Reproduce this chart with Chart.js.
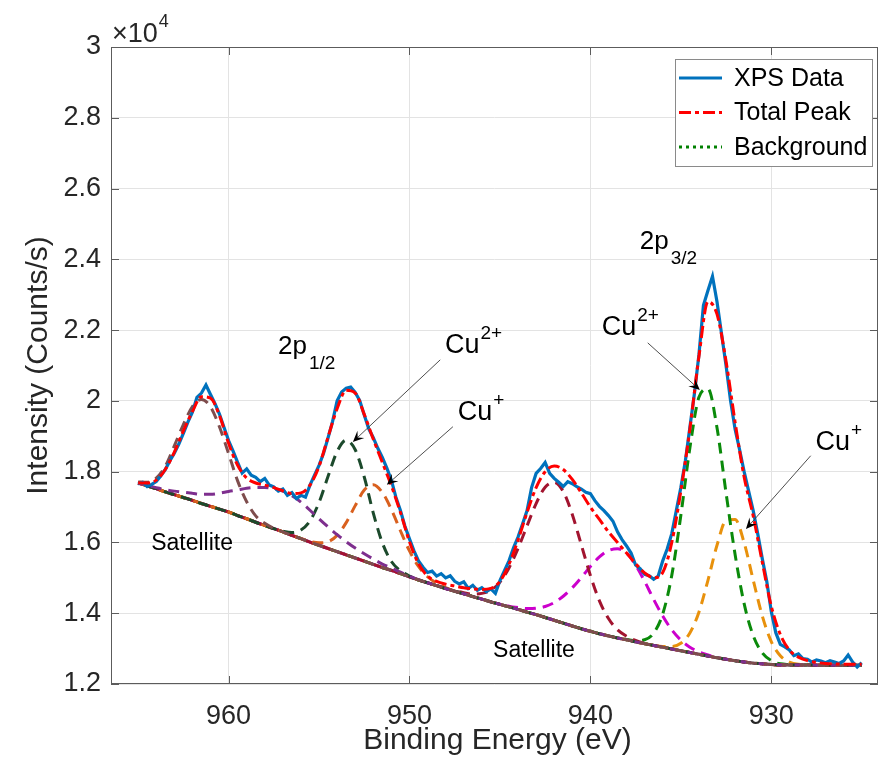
<!DOCTYPE html>
<html><head><meta charset="utf-8">
<script src="https://cdn.jsdelivr.net/npm/chart.js@4.4.1/dist/chart.umd.min.js"></script>
<style>html,body{margin:0;padding:0;background:#fff;}#wrap{width:880px;height:769px;}</style>
</head><body><div id="wrap"><canvas id="c" width="880" height="769"></canvas></div>
<script>
// ---------- DATA (intensity in units of 10^4 counts/s) ----------
const energyFine = [
965,964.75,964.5,964.25,964,963.75,963.5,963.25,
963,962.75,962.5,962.25,962,961.75,961.5,961.25,
961,960.75,960.5,960.25,960,959.75,959.5,959.25,
959,958.75,958.5,958.25,958,957.75,957.5,957.25,
957,956.75,956.5,956.25,956,955.75,955.5,955.25,
955,954.75,954.5,954.25,954,953.75,953.5,953.25,
953,952.75,952.5,952.25,952,951.75,951.5,951.25,
951,950.75,950.5,950.25,950,949.75,949.5,949.25,
949,948.75,948.5,948.25,948,947.75,947.5,947.25,
947,946.75,946.5,946.25,946,945.75,945.5,945.25,
945,944.75,944.5,944.25,944,943.75,943.5,943.25,
943,942.75,942.5,942.25,942,941.75,941.5,941.25,
941,940.75,940.5,940.25,940,939.75,939.5,939.25,
939,938.75,938.5,938.25,938,937.75,937.5,937.25,
937,936.75,936.5,936.25,936,935.75,935.5,935.25,
935,934.75,934.5,934.25,934,933.75,933.5,933.25,
933,932.75,932.5,932.25,932,931.75,931.5,931.25,
931,930.75,930.5,930.25,930,929.75,929.5,929.25,
929,928.75,928.5,928.25,928,927.75,927.5,927.25,
927,926.75,926.5,926.25,926,925.75,925.5,925.25,
925];
const xpsData = [
1.765,1.770,1.758,1.764,1.772,1.788,1.806,1.830,
1.852,1.878,1.908,1.940,1.968,2.010,2.022,2.045,
2.018,1.992,1.962,1.925,1.888,1.858,1.826,1.796,
1.808,1.790,1.784,1.772,1.781,1.762,1.757,1.745,
1.751,1.733,1.741,1.724,1.733,1.728,1.762,1.790,
1.818,1.852,1.896,1.942,2.000,2.025,2.036,2.039,
2.024,2.001,1.960,1.921,1.896,1.866,1.840,1.810,
1.776,1.728,1.690,1.646,1.610,1.576,1.548,1.530,
1.515,1.519,1.505,1.512,1.500,1.506,1.490,1.483,
1.489,1.470,1.479,1.465,1.472,1.461,1.469,1.456,
1.492,1.520,1.548,1.585,1.615,1.652,1.690,1.755,
1.795,1.809,1.826,1.795,1.781,1.770,1.758,1.772,
1.766,1.758,1.751,1.742,1.738,1.718,1.702,1.690,
1.676,1.660,1.630,1.608,1.590,1.570,1.536,1.526,
1.510,1.506,1.496,1.505,1.548,1.582,1.625,1.690,
1.755,1.830,1.925,2.020,2.130,2.270,2.312,2.352,
2.280,2.190,2.100,2.000,1.920,1.862,1.800,1.745,
1.690,1.625,1.555,1.490,1.405,1.345,1.312,1.305,
1.296,1.280,1.285,1.272,1.270,1.262,1.268,1.265,
1.260,1.266,1.262,1.258,1.265,1.282,1.262,1.248,
1.260];

const energy = [
965,964.5,964,963.5,963,962.5,962,961.5,961,960.5,
960,959.5,959,958.5,958,957.5,957,956.5,956,955.5,
955,954.5,954,953.5,953,952.5,952,951.5,951,950.5,
950,949.5,949,948.5,948,947.5,947,946.5,946,945.5,
945,944.5,944,943.5,943,942.5,942,941.5,941,940.5,
940,939.5,939,938.5,938,937.5,937,936.5,936,935.5,
935,934.5,934,933.5,933,932.5,932,931.5,931,930.5,
930,929.5,929,928.5,928,927.5,927,926.5,926,925.5,
925];
const totalPeak = [
1.768,1.768,1.776,1.806,1.855,1.915,1.970,2.012,2.008,1.958,
1.880,1.818,1.782,1.768,1.762,1.755,1.746,1.738,1.740,1.762,
1.815,1.898,1.978,2.030,2.022,1.962,1.892,1.826,1.760,1.685,
1.602,1.540,1.505,1.490,1.482,1.477,1.472,1.469,1.467,1.470,
1.490,1.538,1.606,1.685,1.755,1.800,1.816,1.806,1.778,1.740,
1.700,1.665,1.630,1.600,1.570,1.540,1.514,1.500,1.515,1.600,
1.745,1.920,2.125,2.280,2.245,2.112,1.940,1.785,1.675,1.545,
1.420,1.340,1.296,1.276,1.266,1.261,1.258,1.257,1.256,1.256,
1.256];
const background = [
1.768,1.760,1.752,1.743,1.735,1.727,1.719,1.710,1.702,1.694,
1.686,1.676,1.667,1.657,1.648,1.639,1.630,1.620,1.611,1.601,
1.592,1.583,1.574,1.565,1.556,1.547,1.538,1.529,1.521,1.512,
1.503,1.494,1.486,1.478,1.470,1.462,1.455,1.447,1.440,1.432,
1.425,1.418,1.411,1.403,1.396,1.388,1.380,1.372,1.364,1.356,
1.349,1.342,1.336,1.330,1.325,1.319,1.314,1.309,1.304,1.299,
1.294,1.289,1.284,1.279,1.274,1.270,1.266,1.262,1.259,1.257,
1.255,1.254,1.254,1.254,1.254,1.253,1.253,1.253,1.253,1.253,
1.253];
// fitted components: height above the background
const sat2p12 = [
0.003,0.010,0.030,0.072,0.138,0.206,0.265,0.294,0.281,0.232,
0.165,0.098,0.048,0.018,0.006,0.001,0,0,0,0,
0,0,0,0,0,0,0,0,0,0,
0,0,0,0,0,0,0,0,0,0,
0,0,0,0,0,0,0,0,0,0,
0,0,0,0,0,0,0,0,0,0,
0,0,0,0,0,0,0,0,0,0,
0,0,0,0,0,0,0,0,0,0,
0];
const satBroad = [
0,0.001,0.003,0.006,0.010,0.015,0.020,0.026,0.034,0.045,
0.058,0.072,0.086,0.098,0.107,0.113,0.115,0.112,0.103,0.090,
0.075,0.061,0.048,0.037,0.028,0.021,0.015,0.010,0.007,0.004,
0.002,0.001,0,0,0,0,0,0,0,0,
0,0,0,0,0,0,0,0,0,0,
0,0,0,0,0,0,0,0,0,0,
0,0,0,0,0,0,0,0,0,0,
0,0,0,0,0,0,0,0,0,0,
0];
const cu2p12Cu2 = [
0,0,0,0,0,0,0,0,0,0,
0,0,0,0,0,0,0.002,0.008,0.024,0.060,
0.121,0.204,0.283,0.324,0.306,0.238,0.145,0.070,0.025,0.008,
0.002,0,0,0,0,0,0,0,0,0,
0,0,0,0,0,0,0,0,0,0,
0,0,0,0,0,0,0,0,0,0,
0,0,0,0,0,0,0,0,0,0,
0,0,0,0,0,0,0,0,0,0,
0];
const cu2p12Cu1 = [
0,0,0,0,0,0,0,0,0,0,
0,0,0,0,0,0,0,0,0,0.002,
0.007,0.019,0.046,0.091,0.148,0.201,0.225,0.212,0.172,0.121,
0.073,0.038,0.017,0.007,0.002,0,0,0,0,0,
0,0,0,0,0,0,0,0,0,0,
0,0,0,0,0,0,0,0,0,0,
0,0,0,0,0,0,0,0,0,0,
0,0,0,0,0,0,0,0,0,0,
0];
const sat942 = [
0,0,0,0,0,0,0,0,0,0,
0,0,0,0,0,0,0,0,0,0,
0,0,0,0,0,0,0,0,0,0,
0,0,0,0,0,0.001,0.003,0.007,0.016,0.033,
0.063,0.110,0.172,0.244,0.314,0.368,0.390,0.372,0.315,0.237,
0.158,0.093,0.049,0.023,0.010,0.004,0.001,0,0,0,
0,0,0,0,0,0,0,0,0,0,
0,0,0,0,0,0,0,0,0,0,
0];
const sat938 = [
0,0,0,0,0,0,0,0,0,0,
0,0,0,0,0,0,0,0,0,0,
0,0,0,0,0,0,0,0,0,0,
0,0,0,0,0,0,0,0,0,0,
0.001,0.002,0.005,0.010,0.018,0.031,0.050,0.076,0.108,0.145,
0.183,0.217,0.241,0.252,0.245,0.217,0.176,0.130,0.088,0.054,
0.030,0.015,0.007,0.003,0.001,0,0,0,0,0,
0,0,0,0,0,0,0,0,0,0,
0];
const cu2p32Cu2 = [
0,0,0,0,0,0,0,0,0,0,
0,0,0,0,0,0,0,0,0,0,
0,0,0,0,0,0,0,0,0,0,
0,0,0,0,0,0,0,0,0,0,
0,0,0,0,0,0,0,0,0,0,
0,0,0,0,0.001,0.003,0.011,0.035,0.094,0.208,
0.382,0.578,0.726,0.755,0.650,0.470,0.300,0.165,0.078,0.031,
0.011,0.003,0.001,0,0,0,0,0,0,0,
0];
const cu2p32Cu1 = [
0,0,0,0,0,0,0,0,0,0,
0,0,0,0,0,0,0,0,0,0,
0,0,0,0,0,0,0,0,0,0,
0,0,0,0,0,0,0,0,0,0,
0,0,0,0,0,0,0,0,0,0,
0,0,0,0,0,0,0,0,0.002,0.007,
0.021,0.055,0.119,0.214,0.318,0.392,0.399,0.337,0.235,0.136,
0.065,0.026,0.008,0.002,0.001,0,0,0,0,0,
0];

const xTicks = [960, 950, 940, 930];
const yTicks = [1.2, 1.4, 1.6, 1.8, 2.0, 2.2, 2.4, 2.6, 2.8, 3.0];
const yTickLabels = ['1.2','1.4','1.6','1.8','2','2.2','2.4','2.6','2.8','3'];
const seriesNames = ['XPS Data', 'Total Peak', 'Background'];

// ---------- annotation placement (data units) ----------
const textNotes = [
  {text:'2p', sub:'1/2', e:957.27, v:2.133, size:26},
  {text:'2p', sub:'3/2', e:937.27, v:2.429, size:26},
  {text:'Cu', sup:'2+', e:948.04, v:2.136, size:27},
  {text:'Cu', sup:'+',  e:947.33, v:1.946, size:27},
  {text:'Cu', sup:'2+', e:939.37, v:2.186, size:27},
  {text:'Cu', sup:'+',  e:927.55, v:1.862, size:27},
  {text:'Satellite', e:964.28, v:1.579, size:23},
  {text:'Satellite', e:945.38, v:1.277, size:23}
];
const arrowNotes = [
  {e0:948.30, v0:2.116, e1:953.13, v1:1.884},
  {e0:947.60, v0:1.927, e1:951.25, v1:1.763},
  {e0:936.83, v0:2.164, e1:933.95, v1:2.031},
  {e0:927.82, v0:1.845, e1:931.40, v1:1.638}
];

// ---------- build ----------
const FONT = '"Liberation Sans", Arial, Helvetica, sans-serif';
const pts = (xs, ys) => xs.map((x, i) => ({x: x, y: ys[i]}));
const comp = (h) => energy.map((x, i) => ({x: x, y: background[i] + h[i]}));
const base = {pointRadius:0, fill:false, borderCapStyle:'butt'};

const datasets = [
  Object.assign({label:seriesNames[0], data:pts(energyFine, xpsData), borderColor:'#0072BD', borderWidth:3.2, tension:0, order:1}, base),
  Object.assign({label:seriesNames[1], data:pts(energy, totalPeak), borderColor:'#FF0000', borderWidth:3, borderDash:[12,4,4,4], cubicInterpolationMode:'monotone', order:0}, base),
  Object.assign({label:seriesNames[2], data:pts(energy, background), borderColor:'#008000', borderWidth:3, borderDash:[3,4], tension:0, order:20}, base),
  Object.assign({label:'c1', data:comp(sat2p12),   borderColor:'#7E4D4D', borderWidth:3, borderDash:[11,7], borderDashOffset:0,  cubicInterpolationMode:'monotone', order:2}, base),
  Object.assign({label:'c2', data:comp(satBroad),  borderColor:'#7E2F8E', borderWidth:3, borderDash:[11,7], borderDashOffset:5,  cubicInterpolationMode:'monotone', order:3}, base),
  Object.assign({label:'c3', data:comp(cu2p12Cu2), borderColor:'#1C4A2C', borderWidth:3, borderDash:[11,7], borderDashOffset:9,  cubicInterpolationMode:'monotone', order:4}, base),
  Object.assign({label:'c4', data:comp(cu2p12Cu1), borderColor:'#D9601E', borderWidth:3, borderDash:[11,7], borderDashOffset:14, cubicInterpolationMode:'monotone', order:5}, base),
  Object.assign({label:'c5', data:comp(sat942),    borderColor:'#A2142F', borderWidth:3, borderDash:[11,7], borderDashOffset:3,  cubicInterpolationMode:'monotone', order:6}, base),
  Object.assign({label:'c6', data:comp(sat938),    borderColor:'#CC00CC', borderWidth:3, borderDash:[11,7], borderDashOffset:7,  cubicInterpolationMode:'monotone', order:7}, base),
  Object.assign({label:'c7', data:comp(cu2p32Cu2), borderColor:'#0A8A0A', borderWidth:3, borderDash:[11,7], borderDashOffset:11, cubicInterpolationMode:'monotone', order:8}, base),
  Object.assign({label:'c8', data:comp(cu2p32Cu1), borderColor:'#E8910C', borderWidth:3, borderDash:[11,7], borderDashOffset:16, cubicInterpolationMode:'monotone', order:9}, base)
];

function drawArrow(ctx, x0, y0, x1, y1) {
  const dx = x1 - x0, dy = y1 - y0, L = Math.hypot(dx, dy);
  const ux = dx / L, uy = dy / L, nx = -uy, ny = ux;
  const len = 11, w = 5;
  ctx.strokeStyle = '#3a3a3a'; ctx.lineWidth = 0.9; ctx.setLineDash([]);
  ctx.beginPath(); ctx.moveTo(x0, y0); ctx.lineTo(x1 - ux * len * 0.6, y1 - uy * len * 0.6); ctx.stroke();
  ctx.fillStyle = '#000';
  ctx.beginPath();
  ctx.moveTo(x1, y1);
  ctx.lineTo(x1 - ux * len + nx * w, y1 - uy * len + ny * w);
  ctx.lineTo(x1 - ux * len * 0.6, y1 - uy * len * 0.6);
  ctx.lineTo(x1 - ux * len - nx * w, y1 - uy * len - ny * w);
  ctx.closePath(); ctx.fill();
}

const decor = {
  id: 'decor',
  afterDatasetsDraw(chart) {
    const ctx = chart.ctx, a = chart.chartArea, xs = chart.scales.x, ys = chart.scales.y;
    ctx.save();
    // box + inward ticks
    ctx.setLineDash([]);
    ctx.strokeStyle = '#5c5c5c'; ctx.lineWidth = 1;
    ctx.strokeRect(a.left + 0.5, a.top + 0.5, a.right - a.left - 1, a.bottom - a.top - 1);
    ctx.beginPath();
    xTicks.forEach(v => { const p = Math.round(xs.getPixelForValue(v)) + 0.5;
      ctx.moveTo(p, a.bottom); ctx.lineTo(p, a.bottom - 8); ctx.moveTo(p, a.top); ctx.lineTo(p, a.top + 8); });
    yTicks.forEach(v => { const p = Math.round(ys.getPixelForValue(v)) + 0.5;
      ctx.moveTo(a.left, p); ctx.lineTo(a.left + 8, p); ctx.moveTo(a.right, p); ctx.lineTo(a.right - 8, p); });
    ctx.stroke();

    // arrows
    arrowNotes.forEach(n => drawArrow(ctx, xs.getPixelForValue(n.e0), ys.getPixelForValue(n.v0),
      xs.getPixelForValue(n.e1), ys.getPixelForValue(n.v1)));

    // text notes
    ctx.fillStyle = '#000'; ctx.textAlign = 'left'; ctx.textBaseline = 'alphabetic';
    textNotes.forEach(n => {
      const x = xs.getPixelForValue(n.e), y = ys.getPixelForValue(n.v);
      ctx.font = n.size + 'px ' + FONT;
      ctx.fillText(n.text, x, y);
      const w = ctx.measureText(n.text).width;
      if (n.sup) { ctx.font = '19px ' + FONT; ctx.fillText(n.sup, x + w + 1, y - 14); }
      if (n.sub) { ctx.font = '19px ' + FONT; ctx.fillText(n.sub, x + w + 2, y + 15); }
    });

    // legend
    const lx = a.right - 203, ly = a.top + 12, lw = 197, lh = 107;
    ctx.fillStyle = '#fff'; ctx.fillRect(lx, ly, lw, lh);
    ctx.strokeStyle = '#8a8a8a'; ctx.lineWidth = 1; ctx.setLineDash([]);
    ctx.strokeRect(lx + 0.5, ly + 0.5, lw, lh);
    for (let k = 0; k < 3; k++) {
      const ds = chart.data.datasets[k];
      const yy = ly + 19 + k * 34.5;
      ctx.strokeStyle = ds.borderColor; ctx.lineWidth = ds.borderWidth;
      ctx.setLineDash(ds.borderDash || []);
      ctx.beginPath(); ctx.moveTo(lx + 4, yy); ctx.lineTo(lx + 47, yy); ctx.stroke();
      ctx.setLineDash([]);
      ctx.fillStyle = '#000'; ctx.font = '25px ' + FONT; ctx.textBaseline = 'middle';
      ctx.fillText(ds.label, lx + 59, yy + 1);
    }
    ctx.restore();
  },
  afterDraw(chart) {
    const ctx = chart.ctx, a = chart.chartArea;
    ctx.save();
    ctx.fillStyle = '#262626'; ctx.textBaseline = 'alphabetic';
    ctx.font = '30px ' + FONT; ctx.textAlign = 'center';
    ctx.fillText('Binding Energy (eV)', (a.left + a.right) / 2 + 3, 749);
    ctx.save(); ctx.translate(47, (a.top + a.bottom) / 2); ctx.rotate(-Math.PI / 2);
    ctx.fillText('Intensity (Counts/s)', 0, 0); ctx.restore();
    ctx.textAlign = 'left'; ctx.font = '27px ' + FONT;
    ctx.fillText('\u00d710', a.left + 1, a.top - 5);
    const w = ctx.measureText('\u00d710').width;
    ctx.font = '18px ' + FONT; ctx.fillText('4', a.left + 2 + w, a.top - 20);
    ctx.restore();
  }
};

new Chart(document.getElementById('c'), {
  type: 'line',
  data: {datasets: datasets},
  options: {
    responsive: false, animation: false, devicePixelRatio: 1, events: [],
    layout: {padding: {top: 47, right: 2, left: 0, bottom: 0}},
    plugins: {legend: {display: false}, tooltip: {enabled: false}},
    elements: {point: {radius: 0}},
    scales: {
      x: {
        type: 'linear', reverse: true, min: 924.1, max: 966.5,
        afterBuildTicks: s => { s.ticks = xTicks.map(v => ({value: v})); },
        afterFit: s => { s.height = 85; },
        grid: {color: '#e3e3e3', lineWidth: 1, drawTicks: false},
        border: {display: false},
        ticks: {autoSkip: false, maxRotation: 0, padding: 16, color: '#262626',
                font: {size: 27, family: FONT}, callback: v => String(v)}
      },
      y: {
        type: 'linear', min: 1.2, max: 3.0,
        afterBuildTicks: s => { s.ticks = yTicks.map(v => ({value: v})); },
        afterFit: s => { s.width = 111; },
        grid: {color: '#e3e3e3', lineWidth: 1, drawTicks: false},
        border: {display: false},
        ticks: {autoSkip: false, padding: 10, color: '#262626',
                font: {size: 27, family: FONT}, callback: (v, i) => yTickLabels[i]}
      }
    }
  },
  plugins: [decor]
});
</script></body></html>
